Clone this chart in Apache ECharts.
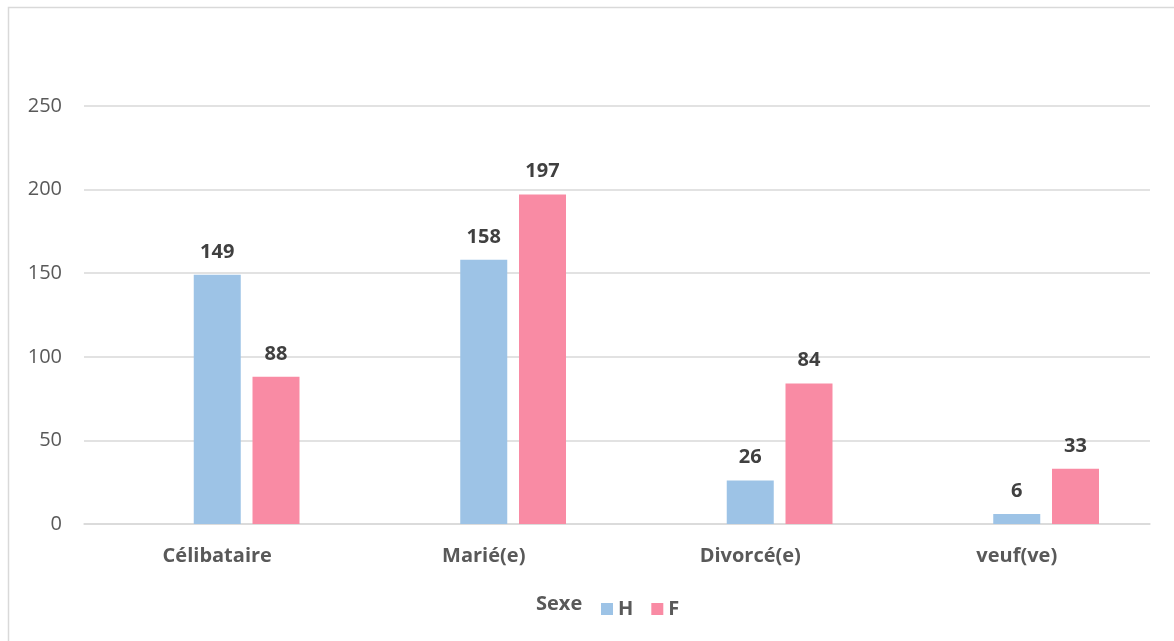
<!DOCTYPE html>
<html>
<head>
<meta charset="utf-8">
<script src="https://cdn.jsdelivr.net/npm/echarts@6/dist/echarts.min.js"></script>
<style>
  html, body { margin: 0; padding: 0; background: #fff; }
  #chart { width: 1174px; height: 641px; }
</style>
</head>
<body>
<div id="chart"></div>
<script>
const categories = ["Célibataire", "Marié(e)", "Divorcé(e)", "veuf(ve)"];
const hommes = [149, 158, 26, 6];
const femmes = [88, 197, 84, 33];
// empty first series from the pivot table, keeps the bars offset like the original
const vide = [null, null, null, null];

const font = "'Open Sans', 'Noto Sans', sans-serif";

const chart = echarts.init(document.getElementById("chart"));
chart.setOption({
  animation: false,
  textStyle: { fontFamily: font },
  grid: { left: 84, right: 24, top: 106, bottom: 117 },
  graphic: [
    {
      type: "rect",
      shape: { x: 8.5, y: 7.5, width: 1170, height: 640 },
      style: { fill: "none", stroke: "#d9d9d9", lineWidth: 1.5 },
      silent: true
    },
    {
      type: "text",
      left: 536,
      top: 594,
      style: { text: "Sexe", font: "bold 20px " + font, fill: "#595959" }
    }
  ],
  legend: {
    data: ["H", "F"],
    left: 596,
    top: 594,
    icon: "rect",
    itemWidth: 12,
    itemHeight: 12,
    itemGap: 18,
    textStyle: { fontSize: 20, fontWeight: "bold", color: "#595959", fontFamily: font }
  },
  xAxis: {
    type: "category",
    data: categories,
    axisLine: { lineStyle: { color: "#d9d9d9", width: 1.5 } },
    axisTick: { show: false },
    axisLabel: { fontSize: 20, fontWeight: "bold", color: "#595959", margin: 22 }
  },
  yAxis: {
    type: "value",
    min: 0,
    max: 250,
    interval: 50,
    axisLine: { show: false },
    axisTick: { show: false },
    splitLine: { lineStyle: { color: "#d9d9d9", width: 1.5 } },
    axisLabel: { fontSize: 20, color: "#595959", margin: 22 }
  },
  series: [
    {
      name: "",
      type: "bar",
      data: vide,
      barWidth: 47,
      barGap: "25%",
      barCategoryGap: "38%"
    },
    {
      name: "H",
      type: "bar",
      data: hommes,
      barWidth: 47,
      barGap: "25%",
      itemStyle: { color: "#9dc3e6" },
      label: {
        show: true, position: "top", distance: 13,
        fontSize: 20, fontWeight: "bold", color: "#404040"
      }
    },
    {
      name: "F",
      type: "bar",
      data: femmes,
      barWidth: 47,
      barGap: "25%",
      itemStyle: { color: "#f98ba4" },
      label: {
        show: true, position: "top", distance: 13,
        fontSize: 20, fontWeight: "bold", color: "#404040"
      }
    }
  ]
});
</script>
</body>
</html>
